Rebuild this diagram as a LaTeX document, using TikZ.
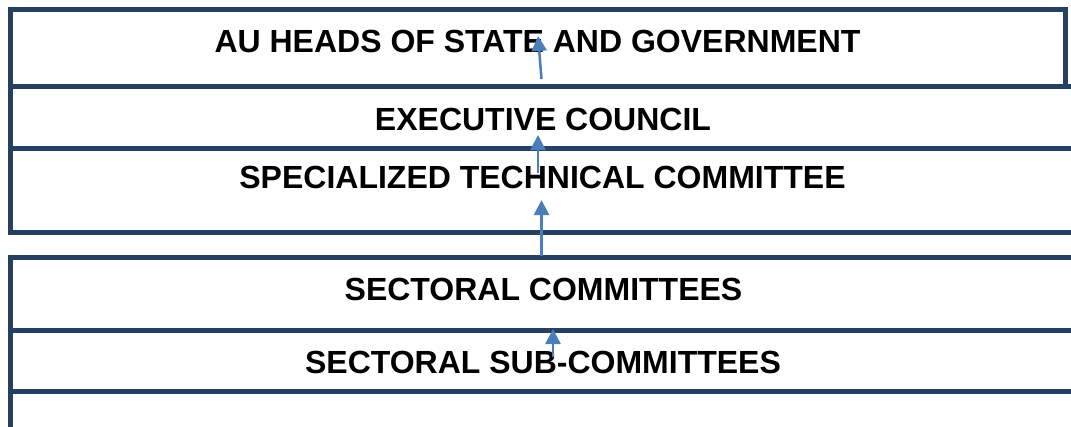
\documentclass[tikz,border=0pt]{standalone}
\usepackage{fontspec}
\setmainfont{Liberation Sans}
\usetikzlibrary{arrows.meta}
\definecolor{boxline}{RGB}{37,64,97}
\definecolor{arrowblue}{RGB}{74,126,187}
\tikzset{
  tier/.style={draw=boxline, line width=5pt, fill=white, inner sep=0pt, outer sep=0pt, anchor=north west},
  label/.style={font=\fontsize{32}{38}\selectfont\bfseries, anchor=base, inner sep=0pt, text=black},
  uparrow/.style={draw=arrowblue, line width=2.5pt, -{Triangle[length=15pt,width=15pt]}}
}
\begin{document}
\begin{tikzpicture}[x=1pt,y=-1pt]
\useasboundingbox (0,0) rectangle (1071,426);
\clip (0,0) rectangle (1071,426);
% tiers
\node[tier, minimum width=1054.5pt, minimum height=76.5pt] (b1) at (10.5,9.5) {};
\node[tier, minimum width=1080pt, minimum height=62pt] (b2) at (10.5,86) {};
\node[tier, minimum width=1080pt, minimum height=84pt] (b3) at (10.5,148) {};
\node[tier, minimum width=1080pt, minimum height=73pt] (b4) at (10.5,257) {};
\node[tier, minimum width=1080pt, minimum height=61pt] (b5) at (10.5,330) {};
\node[tier, minimum width=1080pt, minimum height=60pt] (b6) at (10.5,391) {};
% redraw shared borders
\draw[boxline, line width=5pt] (b1.south west) -- (b1.south east);
\draw[boxline, line width=5pt] (b1.north east) -- ([yshift=-2.5pt]b1.south east);
% labels
\node[label] (t1) at (537.5,52) {AU HEADS OF STATE AND GOVERNMENT};
\node[label] (t2) at (543,130) {EXECUTIVE COUNCIL};
\node[label] (t3) at (542.5,188) {SPECIALIZED TECHNICAL COMMITTEE};
\node[label] (t4) at (543.5,300) {SECTORAL COMMITTEES};
\node[label] (t5) at (543,373) {SECTORAL SUB-COMMITTEES};
% arrow end points
\coordinate (a1s) at (541.5,79);
\coordinate (a1e) at (538,36);
\coordinate (a2s) at (538,173);
\coordinate (a2e) at (538,135);
\coordinate (a3s) at (541.5,256);
\coordinate (a3e) at (541.5,200);
\coordinate (a4s) at (553,357);
\coordinate (a4e) at (553,329);
\draw[uparrow] (a1s) -- (a1e);
\draw[uparrow] (a2s) -- (a2e);
\draw[uparrow] (a3s) -- (a3e);
\draw[uparrow] (a4s) -- (a4e);
\end{tikzpicture}
\end{document}
